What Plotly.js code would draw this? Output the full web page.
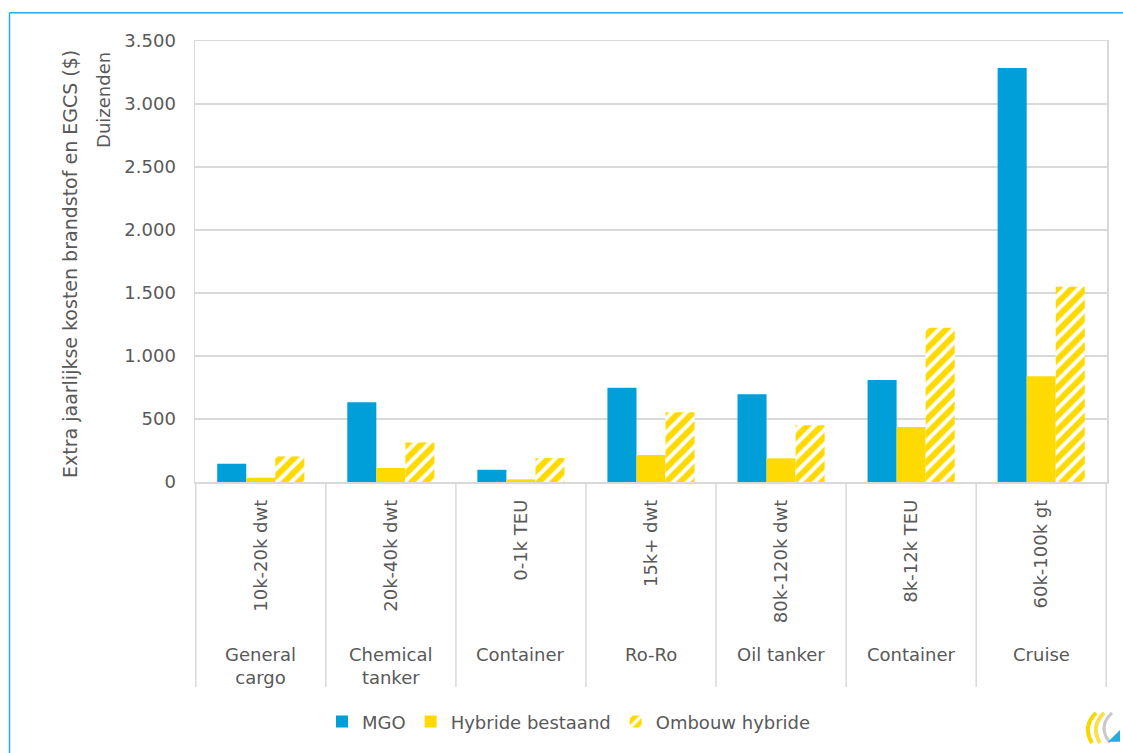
<!DOCTYPE html>
<html>
<head>
<meta charset="utf-8">
<script src="https://cdn.plot.ly/plotly-3.0.1.min.js"></script>
<style>html,body{margin:0;padding:0;background:#fff;}#chart{width:1123px;height:753px;}</style>
</head>
<body>
<div id="chart"></div>
<script>
const subLabels = ['10k-20k dwt','20k-40k dwt','0-1k TEU','15k+ dwt','80k-120k dwt','8k-12k TEU','60k-100k gt'];
const groupLabels = ['General<br>cargo','Chemical<br>tanker','Container','Ro-Ro','Oil tanker','Container','Cruise'];
const seriesNames = ['MGO','Hybride bestaand','Ombouw hybride'];
const mgo = [145,633,97,749,696,810,3285];
const hybride = [34,111,21,214,188,437,839];
const ombouw = [203,313,190,553,450,1225,1550];
const yTicks = [0,500,1000,1500,2000,2500,3000,3500];

const TXT = '#595959', GRID = '#d9d9d9', FONT = 'DejaVu Sans';
const BLUE = '#009FDA', YELLOW = '#FFDA00';
const L = 195, R = 1107, T = 41, B = 484, W = 1123, H = 753;
const px = x => (x - L) / (R - L);
const py = y => (B - y) / (B - T);
const P = (x, y) => px(x).toFixed(5) + ',' + py(y).toFixed(5);

const traces = [
  {type:'bar', name:seriesNames[0], x:subLabels, y:mgo, marker:{color:BLUE, line:{width:0}}},
  {type:'bar', name:seriesNames[1], x:subLabels, y:hybride, marker:{color:YELLOW, line:{width:0}}},
  {type:'bar', name:seriesNames[2], x:subLabels, y:ombouw, marker:{color:YELLOW, line:{width:0},
     pattern:{shape:'/', fillmode:'replace', bgcolor:YELLOW, fgcolor:'#ffffff', size:10, solidity:0.4}}}
];

const shapes = [];
// category separators below the axis
for (let i = 0; i <= subLabels.length; i++) {
  shapes.push({type:'line', xref:'x', yref:'paper', x0:i-0.5, x1:i-0.5, y0:0, y1:py(690),
    line:{color:GRID, width:1.5}});
}
// outer frame
shapes.push({type:'line', xref:'paper', yref:'paper', x0:px(9.5), x1:px(9.5), y0:py(12.5), y1:py(760),
  line:{color:'#29ABE2', width:1.5}});
shapes.push({type:'line', xref:'paper', yref:'paper', x0:px(9.5), x1:px(1130), y0:py(12.5), y1:py(12.5),
  line:{color:'#29ABE2', width:1.5}});
// small logo (bottom right)
shapes.push({type:'path', xref:'paper', yref:'paper',
  path:'M' + P(1096,716) + ' Q' + P(1082,730) + ' ' + P(1092,746), line:{color:'#F5D800', width:4}});
shapes.push({type:'path', xref:'paper', yref:'paper',
  path:'M' + P(1104,716) + ' Q' + P(1090,730) + ' ' + P(1100,746), line:{color:'#F8E14A', width:4}});
shapes.push({type:'path', xref:'paper', yref:'paper',
  path:'M' + P(1112,716) + ' Q' + P(1097,730) + ' ' + P(1110,746), line:{color:'#C8C8C8', width:3}});
shapes.push({type:'path', xref:'paper', yref:'paper',
  path:'M' + P(1108,745) + ' L' + P(1120,745) + ' L' + P(1120,733) + ' Z', fillcolor:'#29ABE2', line:{width:0}});

const annotations = [];
groupLabels.forEach((g, i) => {
  annotations.push({xref:'x', yref:'paper', x:subLabels[i], y:py(645), yanchor:'top', xanchor:'center',
    text:g, showarrow:false, font:{family:FONT, size:18, color:TXT}});
});
annotations.push({xref:'paper', yref:'paper', x:px(70), y:py(265), text:'Extra jaarlijkse kosten brandstof en EGCS ($)',
  textangle:-90, showarrow:false, xanchor:'center', yanchor:'middle', font:{family:FONT, size:19, color:TXT}});
annotations.push({xref:'paper', yref:'paper', x:px(104), y:py(50), text:'Duizenden',
  textangle:-90, showarrow:false, xanchor:'center', yanchor:'top', font:{family:FONT, size:18, color:TXT}});

const layout = {
  width:W, height:H,
  margin:{l:L, r:W-R, t:T, b:H-B},
  paper_bgcolor:'#ffffff', plot_bgcolor:'#ffffff',
  separators:',.',
  font:{family:FONT, size:18, color:TXT},
  barmode:'group', bargap:0.33, bargroupgap:0,
  showlegend:true,
  legend:{orientation:'h', x:px(322), xanchor:'left', y:py(725), yanchor:'middle',
    font:{family:FONT, size:18, color:TXT}, itemwidth:30, traceorder:'normal'},
  xaxis:{type:'category', showgrid:false, zeroline:false, showline:true, mirror:true, linecolor:GRID, linewidth:1.5,
    ticks:'outside', ticklen:9, tickcolor:'rgba(0,0,0,0)', tickangle:-90,
    tickfont:{family:FONT, size:18, color:TXT}},
  yaxis:{range:[0,3500], tickvals:yTicks, tickformat:',d', showgrid:true, gridcolor:GRID, gridwidth:1.5,
    zeroline:false, showline:true, mirror:true, linecolor:GRID, linewidth:1.5,
    ticks:'outside', ticklen:14, tickcolor:'rgba(0,0,0,0)', tickfont:{family:FONT, size:18, color:TXT}},
  shapes:shapes, annotations:annotations
};

Plotly.newPlot('chart', traces, layout, {displayModeBar:false, staticPlot:true});
</script>
</body>
</html>
